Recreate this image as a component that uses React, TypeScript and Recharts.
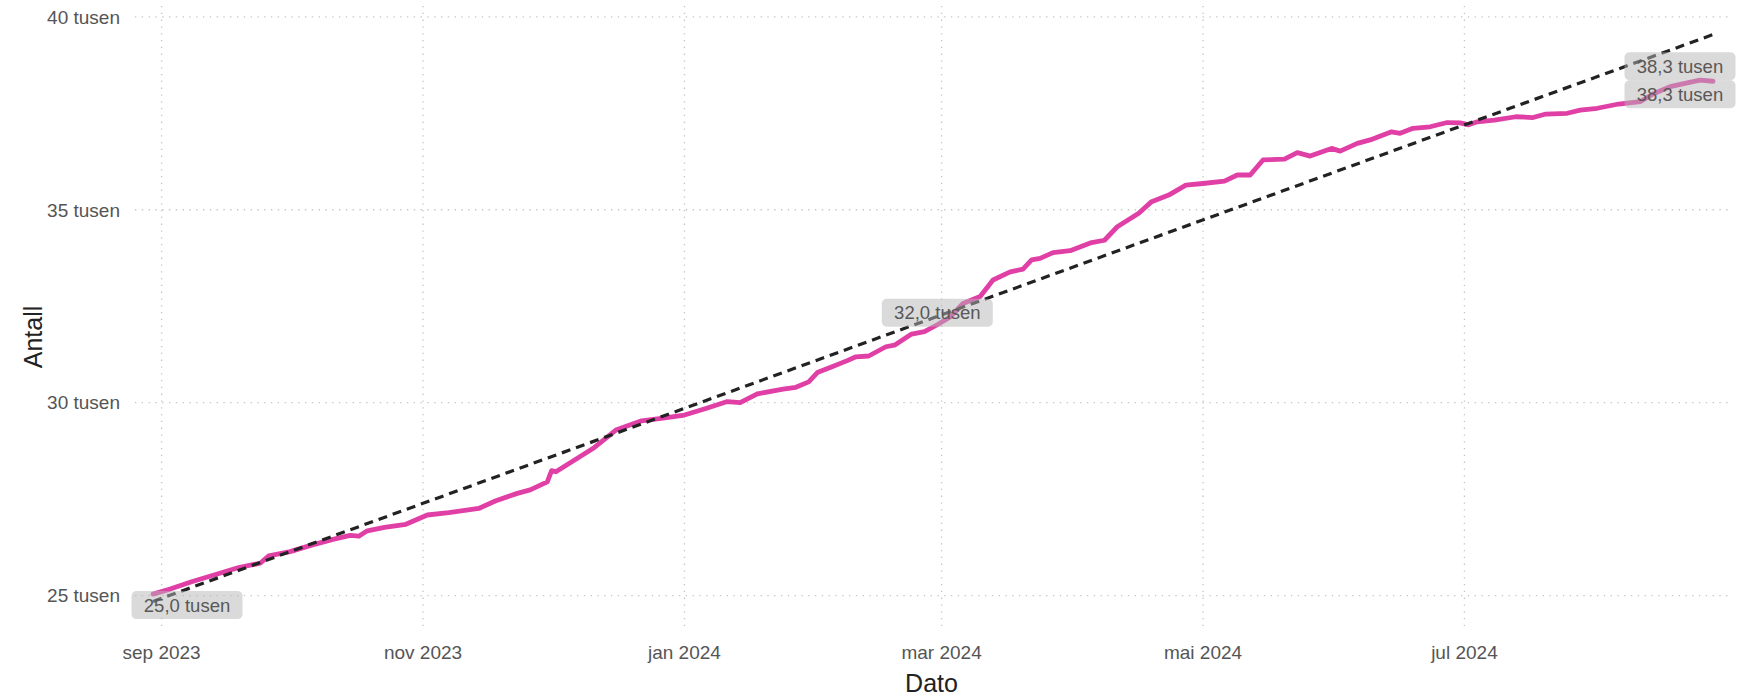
import { LineChart, Line, XAxis, YAxis, CartesianGrid } from 'recharts'

// daglige observasjoner, lest av bildet (ca. hver 3.-5. dag)
const dates = [
  '2023-08-30', '2023-09-03', '2023-09-08', '2023-09-14', '2023-09-19', '2023-09-24', '2023-09-26',
  '2023-10-01', '2023-10-06', '2023-10-11', '2023-10-15', '2023-10-17', '2023-10-19', '2023-10-23',
  '2023-10-28', '2023-11-02', '2023-11-07', '2023-11-14', '2023-11-18', '2023-11-23', '2023-11-26',
  '2023-11-30', '2023-12-01', '2023-12-02', '2023-12-06', '2023-12-11', '2023-12-16', '2023-12-22',
  '2023-12-27', '2024-01-01', '2024-01-06', '2024-01-11', '2024-01-14', '2024-01-18', '2024-01-24',
  '2024-01-27', '2024-01-30', '2024-02-01', '2024-02-04', '2024-02-08', '2024-02-10', '2024-02-13',
  '2024-02-17', '2024-02-19', '2024-02-23', '2024-02-26', '2024-02-29', '2024-03-03', '2024-03-06',
  '2024-03-10', '2024-03-13', '2024-03-17', '2024-03-20', '2024-03-22', '2024-03-24', '2024-03-27',
  '2024-03-31', '2024-04-05', '2024-04-08', '2024-04-11', '2024-04-16', '2024-04-19', '2024-04-23',
  '2024-04-27', '2024-05-01', '2024-05-06', '2024-05-09', '2024-05-12', '2024-05-15', '2024-05-20',
  '2024-05-23', '2024-05-26', '2024-05-31', '2024-06-02', '2024-06-06', '2024-06-09', '2024-06-14',
  '2024-06-16', '2024-06-19', '2024-06-23', '2024-06-27', '2024-06-30', '2024-07-02', '2024-07-04',
  '2024-07-08', '2024-07-13', '2024-07-17', '2024-07-20', '2024-07-25', '2024-07-28', '2024-08-01',
  '2024-08-06', '2024-08-11', '2024-08-14', '2024-08-18', '2024-08-22', '2024-08-25', '2024-08-28',
]

const antall = [
  25040, 25170, 25360, 25560, 25730, 25840, 26030,
  26140, 26310, 26460, 26560, 26540, 26680, 26770,
  26850, 27090, 27150, 27260, 27460, 27650, 27740,
  27950, 28240, 28210, 28490, 28840, 29290, 29530,
  29600, 29680, 29850, 30030, 30000, 30230, 30350,
  30400, 30540, 30780, 30910, 31090, 31190, 31210,
  31450, 31490, 31780, 31840, 32020, 32220, 32570,
  32750, 33180, 33390, 33460, 33700, 33740, 33890,
  33940, 34150, 34210, 34560, 34910, 35210, 35380,
  35640, 35680, 35740, 35900, 35900, 36290, 36310,
  36480, 36390, 36590, 36520, 36720, 36810, 37020,
  36980, 37110, 37150, 37260, 37250, 37200, 37280,
  37320, 37410, 37390, 37480, 37500, 37580, 37630,
  37740, 37800, 38000, 38190, 38290, 38360, 38330,
]

// lineær trend (stiplet), endepunkter lest av bildet
const trendStart = 24850
const trendEnd = 39540

const yTicks = [25000, 30000, 35000, 40000]
const xTickDates = ['2023-09-01', '2023-11-01', '2024-01-01', '2024-03-01', '2024-05-01', '2024-07-01']
const xTickLabels = ['sep 2023', 'nov 2023', 'jan 2024', 'mar 2024', 'mai 2024', 'jul 2024']

// hvilke punkter som får etikett (indeks i datasettet) og forskyvning
const labelled: { [i: number]: { dx: number; dy: number }[] } = {
  0: [{ dx: 34, dy: 11 }],
  46: [{ dx: 0, dy: -12 }],
  [dates.length - 1]: [{ dx: -33, dy: -15 }, { dx: -33, dy: 13 }],
}

const toTime = (d: string) => Date.parse(d + 'T00:00:00Z')

const data = dates.map((d, i) => ({
  t: toTime(d),
  antall: antall[i],
  trend: i === 0 ? trendStart : i === dates.length - 1 ? trendEnd : null,
}))

const xTicks = xTickDates.map(toTime)
const FONT = '"Liberation Sans", Arial, sans-serif'

const fmtTusen = (v: number) => (v / 1000).toFixed(1).replace('.', ',') + ' tusen'

function PointLabel(props: any) {
  const { x, y, index, value } = props
  const specs = labelled[index]
  if (!specs) return null
  const w = 111
  const h = 28
  return (
    <g>
      {specs.map((s, k) => (
        <g key={k}>
          <rect
            x={x + s.dx - w / 2}
            y={y + s.dy - h / 2}
            width={w}
            height={h}
            rx={5}
            fill="#b5b5b5"
            fillOpacity={0.5}
          />
          <text
            x={x + s.dx}
            y={y + s.dy}
            dy="0.36em"
            textAnchor="middle"
            fontSize={18.5}
            fontFamily={FONT}
            fill="#585858"
          >
            {fmtTusen(value)}
          </text>
        </g>
      ))}
    </g>
  )
}

export default function App() {
  return (
    <div style={{ position: 'fixed', left: 0, top: 0, background: '#fff' }}>
      <LineChart
        width={1746}
        height={699}
        data={data}
        margin={{ top: 6, right: 18, left: 0, bottom: 0 }}
      >
        <CartesianGrid
          stroke="#c4c4c4"
          strokeWidth={1.3}
          strokeDasharray="1.3 5.5"
          syncWithTicks
        />
        <XAxis
          dataKey="t"
          type="number"
          scale="linear"
          domain={[Date.UTC(2023, 7, 25, 19), Date.UTC(2024, 7, 31, 12)]}
          ticks={xTicks}
          tickFormatter={(v: number) => xTickLabels[xTicks.indexOf(v)]}
          allowDataOverflow
          height={69}
          axisLine={false}
          tickLine={false}
          tickSize={0}
          tickMargin={16}
          tick={{ fontSize: 19, fill: '#555', fontFamily: FONT }}
          label={{
            content: (p: any) => {
              const vb = p.viewBox
              return (
                <text
                  x={vb.x + vb.width / 2}
                  y={vb.y + 62}
                  textAnchor="middle"
                  fontSize={25}
                  fontFamily={FONT}
                  fill="#222"
                >
                  Dato
                </text>
              )
            },
          }}
        />
        <YAxis
          type="number"
          domain={[24110, 40280]}
          ticks={yTicks}
          allowDataOverflow
          width={135}
          axisLine={false}
          tickLine={false}
          tickSize={0}
          tickMargin={15}
          tickFormatter={(v: number) => `${v / 1000} tusen`}
          tick={{ fontSize: 19, fill: '#555', fontFamily: FONT }}
          label={{
            content: () => {
              const cx = 33
              const cy = 337
              return (
                <text
                  x={cx}
                  y={cy}
                  transform={`rotate(-90 ${cx} ${cy})`}
                  textAnchor="middle"
                  dominantBaseline="central"
                  fontSize={25}
                  fontFamily={FONT}
                  fill="#222"
                >
                  Antall
                </text>
              )
            },
          }}
        />
        <Line
          dataKey="antall"
          stroke="none"
          dot={false}
          isAnimationActive={false}
          label={<PointLabel />}
        />
        <Line
          type="linear"
          dataKey="antall"
          stroke="#e03fa6"
          strokeWidth={4.8}
          strokeLinejoin="round"
          strokeLinecap="round"
          dot={false}
          activeDot={false}
          isAnimationActive={false}
        />
        <Line
          type="linear"
          dataKey="trend"
          connectNulls
          stroke="#222"
          strokeWidth={3.2}
          strokeDasharray="9 6"
          dot={false}
          activeDot={false}
          isAnimationActive={false}
        />
      </LineChart>
    </div>
  )
}
